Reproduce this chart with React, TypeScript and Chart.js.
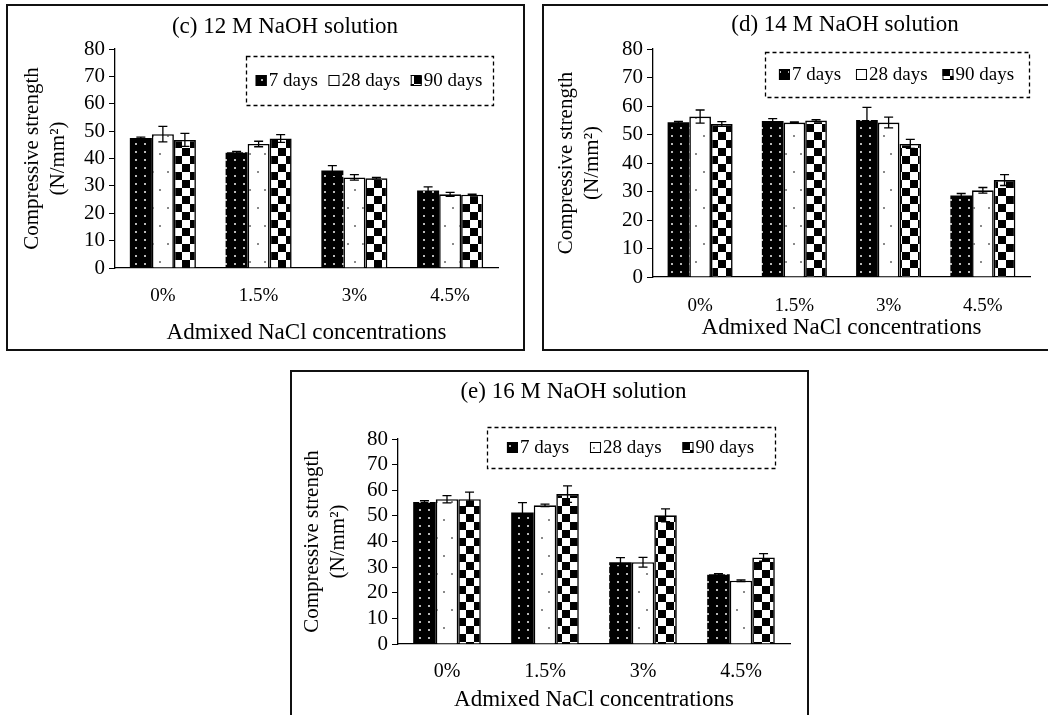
import React, { useEffect, useRef } from "react";
import { Chart, registerables } from "chart.js";

Chart.register(...registerables);

const categories = ["0%", "1.5%", "3%", "4.5%"];
const seriesNames = ["7 days", "28 days", "90 days"];
const yMin = 0;
const yMax = 80;
const yStep = 10;

// (c) 12 M NaOH
const c12Day7 = [47.5, 42.3, 35.6, 28.3];
const c12Day28 = [48.9, 45.3, 33.1, 26.9];
const c12Day90 = [46.8, 47.3, 32.8, 26.8];
const c12Err7 = [0.3, 0.3, 1.8, 1.3];
const c12Err28 = [2.8, 1.0, 1.0, 0.7];
const c12Err90 = [2.4, 1.4, 0.3, 0.2];

// (d) 14 M NaOH
const d14Day7 = [54.3, 54.7, 55.1, 28.6];
const d14Day28 = [56.3, 54.2, 54.2, 30.4];
const d14Day90 = [53.7, 54.9, 46.7, 34.0];
const d14Err7 = [0.3, 0.9, 4.4, 0.7];
const d14Err28 = [2.3, 0.2, 1.9, 1.0];
const d14Err90 = [0.8, 0.3, 1.6, 1.9];

// (e) 16 M NaOH
const e16Day7 = [55.4, 51.3, 31.9, 27.2];
const e16Day28 = [56.5, 54.1, 31.9, 24.7];
const e16Day90 = [56.5, 58.5, 50.2, 33.8];
const e16Err7 = [0.5, 3.9, 1.8, 0.3];
const e16Err28 = [1.4, 0.5, 1.9, 0.3];
const e16Err90 = [2.8, 3.2, 2.5, 1.5];

const FONT = "'Liberation Serif', 'Times New Roman', serif";

function makePattern(ctx: CanvasRenderingContext2D, kind: number): CanvasPattern | string {
  const t = document.createElement("canvas");
  const g = t.getContext("2d");
  if (!g) return "#000";
  if (kind === 0) {
    t.width = 9;
    t.height = 8;
    g.fillStyle = "#000";
    g.fillRect(0, 0, 9, 8);
    g.fillStyle = "#b8b8b8";
    g.fillRect(3, 3, 2, 2);
  } else if (kind === 1) {
    t.width = 15;
    t.height = 36;
    g.fillStyle = "#fff";
    g.fillRect(0, 0, 15, 36);
    g.fillStyle = "#8a8a8a";
    g.fillRect(3, 5, 2, 2);
    g.fillRect(11, 23, 2, 2);
  } else {
    t.width = 16;
    t.height = 16;
    g.fillStyle = "#fff";
    g.fillRect(0, 0, 16, 16);
    g.fillStyle = "#000";
    g.fillRect(0, 0, 8, 8);
    g.fillRect(8, 8, 8, 8);
  }
  return ctx.createPattern(t, "repeat") || "#000";
}

const errorBarPlugin = {
  id: "errorBars",
  afterDatasetsDraw(chart: any) {
    const { ctx } = chart;
    const yScale = chart.scales.y;
    chart.data.datasets.forEach((ds: any, i: number) => {
      const meta = chart.getDatasetMeta(i);
      meta.data.forEach((el: any, j: number) => {
        const v = ds.data[j];
        const e = ds.errors[j];
        const yt = yScale.getPixelForValue(v + e);
        const yb = yScale.getPixelForValue(v - e);
        const x = el.x;
        ctx.save();
        ctx.strokeStyle = "#000";
        ctx.lineWidth = 1.3;
        ctx.beginPath();
        ctx.moveTo(x, yt);
        ctx.lineTo(x, yb);
        ctx.moveTo(x - 4.5, yt);
        ctx.lineTo(x + 4.5, yt);
        ctx.moveTo(x - 4.5, yb);
        ctx.lineTo(x + 4.5, yb);
        ctx.stroke();
        ctx.restore();
      });
    });
  },
};

const panelTitlePlugin = {
  id: "panelTitle",
  afterDraw(chart: any, _a: any, opts: any) {
    if (!opts || !opts.text) return;
    const { ctx } = chart;
    ctx.save();
    ctx.font = `${opts.size}px ${FONT}`;
    ctx.fillStyle = "#000";
    ctx.textAlign = "center";
    ctx.textBaseline = "middle";
    ctx.fillText(opts.text, opts.x, opts.y);
    ctx.restore();
  },
};

const boxLegendPlugin = {
  id: "boxLegend",
  afterDraw(chart: any, _a: any, opts: any) {
    if (!opts || !opts.rect) return;
    const { ctx } = chart;
    const r = opts.rect;
    ctx.save();
    ctx.strokeStyle = "#000";
    ctx.lineWidth = 1.3;
    ctx.setLineDash([4, 3]);
    ctx.strokeRect(r.x + 0.5, r.y + 0.5, r.w, r.h);
    ctx.setLineDash([]);
    ctx.font = `${opts.size}px ${FONT}`;
    ctx.textBaseline = "middle";
    ctx.textAlign = "left";
    const sq = 11;
    const datasets = chart.data.datasets;
    const widths = datasets.map((d: any) => sq + 3 + ctx.measureText(d.label).width);
    const total = widths.reduce((a: number, b: number) => a + b, 0);
    const gap = (r.w - total) / (datasets.length + 1);
    let x = r.x + gap;
    const cy = r.y + r.h / 2;
    datasets.forEach((d: any, i: number) => {
      ctx.fillStyle = d.backgroundColor;
      ctx.fillRect(x, cy - sq / 2, sq, sq);
      ctx.strokeStyle = "#000";
      ctx.lineWidth = 1;
      ctx.strokeRect(x + 0.5, cy - sq / 2 + 0.5, sq - 1, sq - 1);
      ctx.fillStyle = "#000";
      ctx.fillText(d.label, x + sq + 2, cy + 1);
      x += widths[i] + gap;
    });
    ctx.restore();
  },
};

type PanelProps = {
  frame: { left: number; top: number; width: number; height: number };
  canvasH: number;
  area: { left: number; top: number; right: number; bottom: number };
  title: string;
  titlePos: { x: number; y: number };
  legendRect: { x: number; y: number; w: number; h: number };
  series: number[][];
  errors: number[][];
  tickPad: number;
  xTitlePad: number;
  yTitlePad: number;
  catSize: number;
};

function Panel(p: PanelProps) {
  const ref = useRef<HTMLCanvasElement | null>(null);
  useEffect(() => {
    const canvas = ref.current;
    if (!canvas) return;
    const ctx = canvas.getContext("2d");
    if (!ctx) return;
    const W = p.frame.width;
    const H = p.canvasH;
    const patterns = [0, 1, 2].map((k) => makePattern(ctx, k));
    const chart = new Chart(canvas, {
      type: "bar",
      data: {
        labels: categories,
        datasets: seriesNames.map((name, i) => ({
          label: name,
          data: p.series[i],
          errors: p.errors[i],
          backgroundColor: patterns[i],
          borderColor: "#000",
          borderWidth: i === 0 ? 0 : 1.6,
          categoryPercentage: 0.69,
          barPercentage: 1.0,
        })) as any,
      },
      options: {
        responsive: false,
        animation: false,
        layout: {
          padding: { left: 0, top: p.area.top, right: W - p.area.right, bottom: 0 },
        },
        plugins: {
          legend: { display: false },
          tooltip: { enabled: false },
          title: { display: false },
          panelTitle: { text: p.title, x: p.titlePos.x, y: p.titlePos.y, size: 23 },
          boxLegend: { rect: p.legendRect, size: 19 },
        } as any,
        scales: {
          x: {
            grid: { display: false, drawTicks: false },
            border: { display: true, color: "#000", width: 1.3 },
            ticks: { color: "#000", font: { family: FONT, size: p.catSize }, padding: p.tickPad },
            title: {
              display: true,
              text: "Admixed NaCl concentrations",
              color: "#000",
              font: { family: FONT, size: 23 },
              padding: { top: 0, bottom: p.xTitlePad },
            },
            afterFit: (s: any) => {
              s.height = H - p.area.bottom;
            },
          },
          y: {
            min: yMin,
            max: yMax,
            ticks: {
              stepSize: yStep,
              autoSkip: false,
              color: "#000",
              font: { family: FONT, size: 21 },
              padding: 4,
            },
            grid: { drawOnChartArea: false, drawTicks: true, tickLength: 6, color: "#000", lineWidth: 1 },
            border: { display: true, color: "#000", width: 1.3 },
            title: {
              display: true,
              text: ["Compressive strength", "(N/mm²)"],
              color: "#000",
              font: { family: FONT, size: 21, lineHeight: 1.25 },
              padding: { top: p.yTitlePad, bottom: 0 },
            },
            afterFit: (s: any) => {
              s.width = p.area.left;
            },
          },
        },
      },
      plugins: [errorBarPlugin, panelTitlePlugin, boxLegendPlugin],
    });
    return () => chart.destroy();
  }, []);
  const f = p.frame;
  return (
    <>
      <canvas
        ref={ref}
        width={f.width}
        height={p.canvasH}
        style={{ position: "absolute", left: f.left, top: f.top, width: f.width, height: p.canvasH }}
      />
      <div
        style={{
          position: "absolute",
          left: f.left,
          top: f.top,
          width: f.width,
          height: f.height,
          border: "2px solid #111",
          boxSizing: "border-box",
          pointerEvents: "none",
        }}
      />
    </>
  );
}

export default function App() {
  return (
    <div
      style={{
        position: "absolute",
        left: 0,
        top: 0,
        width: 1048,
        height: 715,
        overflow: "hidden",
        background: "#fff",
      }}
    >
      <Panel
        frame={{ left: 6, top: 4, width: 519, height: 347 }}
        canvasH={347}
        area={{ left: 109, top: 45, right: 492, bottom: 264 }}
        title="(c) 12 M NaOH solution"
        titlePos={{ x: 279, y: 23 }}
        legendRect={{ x: 240, y: 52, w: 247, h: 49 }}
        series={[c12Day7, c12Day28, c12Day90]}
        errors={[c12Err7, c12Err28, c12Err90]}
        tickPad={16.6}
        xTitlePad={4.2}
        yTitlePad={13.4}
        catSize={19}
      />
      <Panel
        frame={{ left: 542, top: 4, width: 520, height: 347 }}
        canvasH={347}
        area={{ left: 111, top: 45, right: 488, bottom: 273 }}
        title="(d) 14 M NaOH solution"
        titlePos={{ x: 303, y: 21 }}
        legendRect={{ x: 223, y: 48, w: 264, h: 45 }}
        series={[d14Day7, d14Day28, d14Day90]}
        errors={[d14Err7, d14Err28, d14Err90]}
        tickPad={17.6}
        xTitlePad={9.2}
        yTitlePad={10.9}
        catSize={19}
      />
      <Panel
        frame={{ left: 290, top: 370, width: 519, height: 360 }}
        canvasH={345}
        area={{ left: 108, top: 69, right: 500, bottom: 274 }}
        title="(e) 16 M NaOH solution"
        titlePos={{ x: 283.5, y: 22 }}
        legendRect={{ x: 197, y: 57, w: 288, h: 41 }}
        series={[e16Day7, e16Day28, e16Day90]}
        errors={[e16Err7, e16Err28, e16Err90]}
        tickPad={16}
        xTitlePad={1.2}
        yTitlePad={8.9}
        catSize={20}
      />
    </div>
  );
}
